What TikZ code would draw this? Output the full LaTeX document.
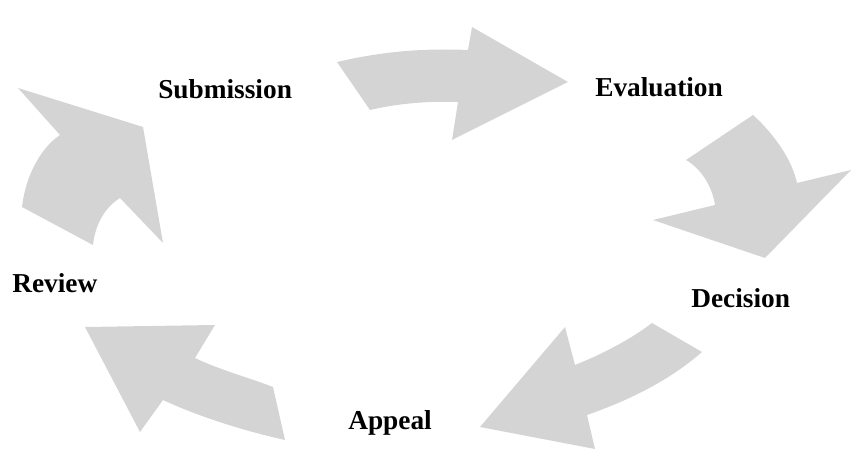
\documentclass[tikz,border=0pt]{standalone}
\usepackage{fontspec}
\setmainfont{Liberation Serif}
\definecolor{arrowgray}{RGB}{212,212,212}
\begin{document}
\begin{tikzpicture}[x=0.75pt,y=-0.75pt,
  bigarrow/.style={fill=arrowgray,draw=none},
  steplabel/.style={inner sep=0pt,anchor=base west,font=\fontsize{20.5}{24}\selectfont\bfseries}]
\useasboundingbox (0,0) rectangle (851,449);
% Submission -> Evaluation
\fill[bigarrow] (337,62) .. controls (380,52) and (420,48) .. (468,50)
  -- (472,27) -- (568,82) -- (452,140) -- (458,102)
  .. controls (430,101) and (400,103) .. (370,110) -- cycle;
% Evaluation -> Decision
\fill[bigarrow] (753,115) .. controls (775,135) and (792,160) .. (797,183)
  -- (851,170) -- (765,258) -- (653,220) -- (715,205)
  .. controls (712,185) and (700,168) .. (686,160) -- cycle;
% Decision -> Appeal
\fill[bigarrow] (652,323) -- (702,352)
  .. controls (670,380) and (630,400) .. (587,415)
  -- (595,449) -- (480,427) -- (565,327) -- (575,365)
  .. controls (600,355) and (630,340) .. (652,323);
% Appeal -> Review
\fill[bigarrow] (273,387) -- (285,440)
  .. controls (240,430) and (195,415) .. (163,400)
  -- (140,432) -- (85,327) -- (215,325) -- (195,358)
  .. controls (220,370) and (250,378) .. (273,387);
% Review -> Submission
\fill[bigarrow] (22,207) -- (93,245)
  .. controls (95,225) and (105,207) .. (120,198)
  -- (163,243) -- (143,127) -- (18,88) -- (60,135)
  .. controls (38,150) and (25,180) .. (22,207);
\node[steplabel] (submission) at (158,99) {Submission};
\node[steplabel] (evaluation) at (595,97) {Evaluation};
\node[steplabel] (decision) at (691,308) {Decision};
\node[steplabel] (review) at (12,293) {Review};
\node[steplabel] (appeal) at (348,430) {Appeal};
\end{tikzpicture}
\end{document}
